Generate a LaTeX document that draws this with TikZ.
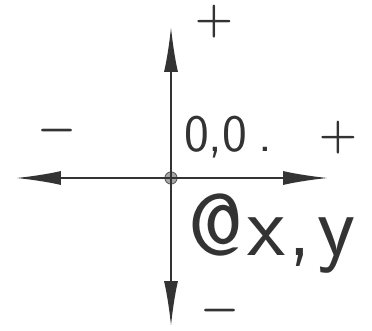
\documentclass[tikz,border=0pt]{standalone}
\usetikzlibrary{arrows.meta}
\begin{document}
\begin{tikzpicture}[x=0.02cm, y=-0.02cm,
    axis/.style={line width=1.1pt, draw=black!80,
                 {Latex[length=0.9cm,width=0.28cm]}-{Latex[length=0.9cm,width=0.28cm]}},
    sign/.style={font=\boldmath\fontsize{31}{31}\selectfont, text=black!80},
    hand/.style={font=\sffamily\fontsize{30}{30}\selectfont, text=black!80}]
    \useasboundingbox (0,0) rectangle (372,331);
    \fill[white] (0,0) rectangle (372,331);
    % origin and axis ends
    \node[circle, draw=black!70, fill=black!35, inner sep=0pt, minimum size=7pt] (o) at (171,178) {};
    \coordinate (top) at (171,27);
    \coordinate (bot) at (171,326);
    \coordinate (lft) at (16,178);
    \coordinate (rgt) at (328,178);
    \draw[axis] (lft) -- (rgt);
    \draw[axis] (bot) -- (top);
    % signs
    \node[sign] (ptop) at (214,22) {$+$};
    \node[sign] (mbot) at (220,311) {$-$};
    \node[sign] (mlft) at (57,131) {$-$};
    \node[sign] (prgt) at (338,138) {$+$};
    % labels
    \node[hand] (zero) at (228,137) {0,0\kern6pt.};
    \node[hand, font=\sffamily\fontsize{50}{50}\selectfont] (at) at (272,234)
      {@\kern2pt x\kern2pt,\kern3pt y};
\end{tikzpicture}
\end{document}
